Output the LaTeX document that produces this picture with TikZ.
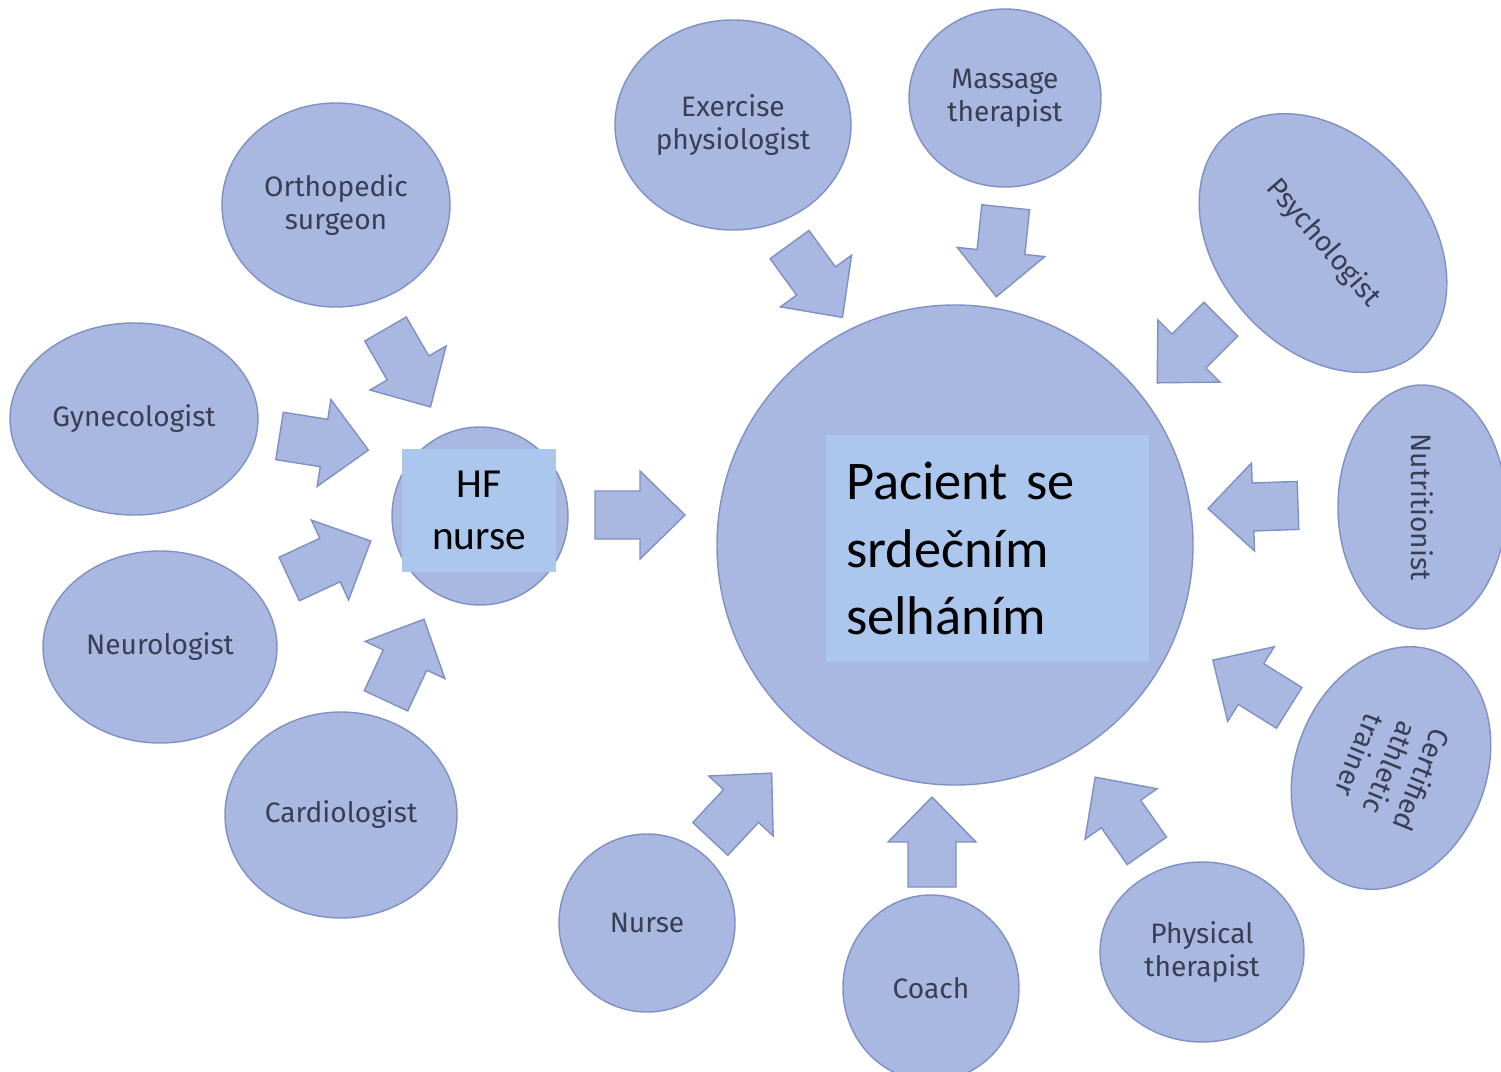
\documentclass[tikz,border=0pt]{standalone}
\usepackage{fontspec}
\setmainfont{Fira Sans}
\newfontfamily\calibrifont{Carlito}
\usetikzlibrary{shapes.geometric}
\definecolor{bubblefill}{RGB}{168,184,224}
\definecolor{bubbleline}{RGB}{128,144,196}
\definecolor{labelfill}{RGB}{171,199,237}
\definecolor{bubbletext}{RGB}{58,62,82}

\begin{document}
\begin{tikzpicture}[x=0.2mm,y=-0.2mm,
		bubble/.style={ellipse,draw=bubbleline,fill=bubblefill,line width=0.8pt,inner sep=0pt,
			align=center,text=bubbletext,font=\fontsize{16}{19}\selectfont},
		dims/.style 2 args={minimum width=#1*0.2mm,minimum height=#2*0.2mm},
		textbox/.style={fill=labelfill,inner sep=0pt,text=black},
		flow/.pic={\filldraw[draw=bubbleline,fill=bubblefill,line width=0.8pt]
			(-45,24) -- (0,24) -- (0,44) -- (45,0) -- (0,-44) -- (0,-24) -- (-45,-24) -- cycle;}]
	\useasboundingbox (0,0) rectangle (1501,1072);
	% left group around the HF nurse
	\node[bubble,dims={228}{204}] (ortho) at (336,205) {Orthopedic\\surgeon};
	\node[bubble,dims={248}{192}] (gyn) at (134,419) {Gynecologist};
	\node[bubble,dims={234}{192}] (neuro) at (160,647) {Neurologist};
	\node[bubble,dims={232}{206}] (cardio) at (341,815) {Cardiologist};
	\node[bubble,dims={176}{178}] (hf) at (480,516) {};
	\node[textbox,dims={154}{123},align=center,font=\calibrifont\fontsize{23.5}{29.5}\selectfont]
		(hflabel) at (479,510.5) {HF\\nurse};
	% patient and the team around him
	\node[bubble,dims={476}{480}] (patient) at (955,545) {};
	\node[textbox,dims={323}{227},text width=283*0.2mm,inner xsep=20*0.2mm,align=left,
		font=\calibrifont\fontsize{31}{38.5}\selectfont]
		(patlabel) at (987.5,548.5) {Pacient se\\srdečním\\selháním};
	\node[bubble,dims={236}{210}] (exphys) at (733,125) {Exercise\\physiologist};
	\node[bubble,dims={192}{178}] (massage) at (1005,98) {Massage\\therapist};
	\node[bubble,dims={290}{210},rotate=-49] (psych) at (1323,243) {Psychologist};
	\node[bubble,dims={244}{168},rotate=-90] (nutri) at (1422,507) {Nutritionist};
	\node[bubble,dims={250}{190},rotate=-112] (trainer) at (1391,768) {Certified\\athletic\\trainer};
	\node[bubble,dims={204}{180}] (physther) at (1202,952) {Physical\\therapist};
	\node[bubble,dims={176}{186}] (coach) at (931,988) {Coach};
	\node[bubble,dims={176}{178}] (nurse) at (647,923) {Nurse};
	% block arrows
	\pic[rotate=-60] (ortho-hf) at (408,368) {flow};
	\pic[rotate=-9] (gyn-hf) at (324,443) {flow};
	\pic[rotate=25] (neuro-hf) at (330,560) {flow};
	\pic[rotate=65] (cardio-hf) at (405,660) {flow};
	\pic (hf-patient) at (640,515) {flow};
	\pic[rotate=-54] (exphys-patient) at (816,281) {flow};
	\pic[rotate=-96] (massage-patient) at (1001,252) {flow};
	\pic[rotate=-135] (psych-patient) at (1189,351) {flow};
	\pic[rotate=182] (nutri-patient) at (1253,507) {flow};
	\pic[rotate=148] (trainer-patient) at (1251,684) {flow};
	\pic[rotate=125] (physther-patient) at (1121,814) {flow};
	\pic[rotate=90] (coach-patient) at (932,842) {flow};
	\pic[rotate=47] (nurse-patient) at (741,806) {flow};
\end{tikzpicture}
\end{document}
